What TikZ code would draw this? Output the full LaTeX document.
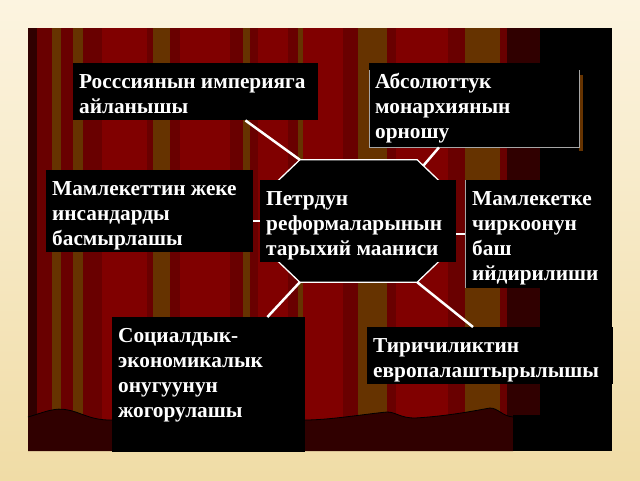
\documentclass[tikz,border=0pt]{standalone}
\usepackage{fontspec}
\setmainfont{Liberation Serif}
\definecolor{curtainred}{HTML}{800000}
\definecolor{curtaindark}{HTML}{690000}
\definecolor{curtainbrown}{HTML}{663300}
\definecolor{curtainshade}{HTML}{300000}
\definecolor{slidecream}{HTML}{FCF4E0}
\definecolor{slidetan}{HTML}{F0DCA6}
% text block of a box: height, width, lines
\newcommand{\boxtext}[3]{\parbox[t][#1][t]{#2}{\vspace*{8pt}\strut #3}}
\tikzset{
  infobox/.style={fill=black, text=white, font=\bfseries\fontsize{21.3}{25}\selectfont,
    anchor=north west, inner ysep=0pt, inner xsep=6pt},
  link/.style={white, line width=2.5pt},
  octline/.style={fill=black, draw=white, line width=1.3pt},
}
\begin{document}
\begin{tikzpicture}[x=1pt,y=-1pt]
  \useasboundingbox (0,0) rectangle (640,480);
  \shade[top color=slidecream, bottom color=slidetan] (0,0) rectangle (640,480);
  % curtain stripes
  \foreach \xa/\xb/\col in {28/37/curtainshade, 37/52/curtaindark, 52/61/curtainbrown,
      61/73/curtaindark, 73/83/curtainbrown, 83/102/curtaindark, 102/147/curtainred,
      147/153/curtaindark, 153/170/curtainbrown, 170/180/curtaindark, 180/230/curtainred,
      230/243/curtaindark, 243/250/curtainbrown, 250/258/curtaindark, 258/288/curtainred,
      288/298/curtaindark, 298/303/curtainbrown, 303/343/curtainred, 343/358/curtaindark,
      358/387/curtainbrown, 387/396/curtaindark, 396/448/curtainred, 448/465/curtaindark,
      465/500/curtainbrown, 500/507/curtaindark, 507/540/curtainshade, 540/612/black}
    \fill[\col] (\xa,28) rectangle (\xb,451);
  % stage floor
  \def\wavetop{(28,417) .. controls (45,412) and (55,407) .. (68,410)
    .. controls (80,412) and (90,420) .. (110,420) -- (305,420)
    .. controls (330,420) and (365,414) .. (387,412)
    .. controls (396,412) and (400,418) .. (415,418)
    .. controls (450,416) and (478,410) .. (490,408)
    .. controls (498,408) and (502,416) .. (513,417)}
  \fill[curtainshade] \wavetop -- (513,451) -- (28,451) -- cycle;
  \draw[black, line width=0.8pt] \wavetop;
  \fill[black] (513,415) rectangle (540,451);

  % central octagon
  \node[minimum width=163pt, minimum height=122pt, inner sep=0pt] (oct) at (358.5,221) {};
  \draw[octline] ([xshift=23pt]oct.north west) -- ([xshift=-23pt]oct.north east)
    -- ([yshift=-22pt]oct.north east) -- ([yshift=22pt]oct.south east)
    -- ([xshift=-23pt]oct.south east) -- ([xshift=23pt]oct.south west)
    -- ([yshift=22pt]oct.south west) -- ([yshift=-22pt]oct.north west) -- cycle;
  \node[infobox] (ctr) at (260,180)
    {\boxtext{82pt}{184pt}{Петрдун\\реформаларынын\\тарыхий мааниси}};

  \node[infobox] (ros) at (73,63)
    {\boxtext{57pt}{233pt}{Росссиянын империяга\\айланышы}};
  \node[infobox] (abs) at (369,63)
    {\boxtext{84pt}{198pt}{Абсолюттук\\монархиянын\\орношу}};
  \fill[curtainbrown] ([yshift=-12pt]abs.north east) rectangle ([xshift=4pt,yshift=-4pt]abs.south east);
  \draw[gray!70, line width=1pt] ([yshift=-7pt]abs.north west) -- (abs.south west)
    -- (abs.south east) -- ([yshift=-7pt]abs.north east);
  \node[infobox] (mam) at (46,170)
    {\boxtext{82pt}{195pt}{Мамлекеттин жеке\\инсандарды\\басмырлашы}};
  \node[infobox, inner xsep=7pt] (chir) at (465,180)
    {\boxtext{108pt}{121pt}{Мамлекетке\\чиркоонун\\баш\\ийдирилиши}};
  \draw[gray!70, line width=1pt] (chir.north west) -- (chir.south west);
  \node[infobox] (soc) at (112,317)
    {\boxtext{135pt}{181pt}{Социалдык-\\экономикалык\\онугуунун\\жогорулашы}};
  \node[infobox] (tir) at (367,327)
    {\boxtext{57pt}{234pt}{Тиричиликтин\\европалаштырылышы}};

  % connectors
  \draw[link] ([xshift=-73pt]ros.south east) -- ([xshift=23pt]oct.north west);
  \draw[link] ([xshift=70pt]abs.south west) -- ([xshift=-17pt,yshift=-6pt]oct.north east);
  \draw[link] (ctr.west -| mam.east) -- (ctr.west);
  \draw[link] (chir.west -| ctr.east) -- (chir.west);
  \draw[link] ([xshift=-38pt]soc.north east) -- ([xshift=23pt]oct.south west);
  \draw[link] ([xshift=106pt]tir.north west) -- ([xshift=-23pt]oct.south east);
\end{tikzpicture}
\end{document}
